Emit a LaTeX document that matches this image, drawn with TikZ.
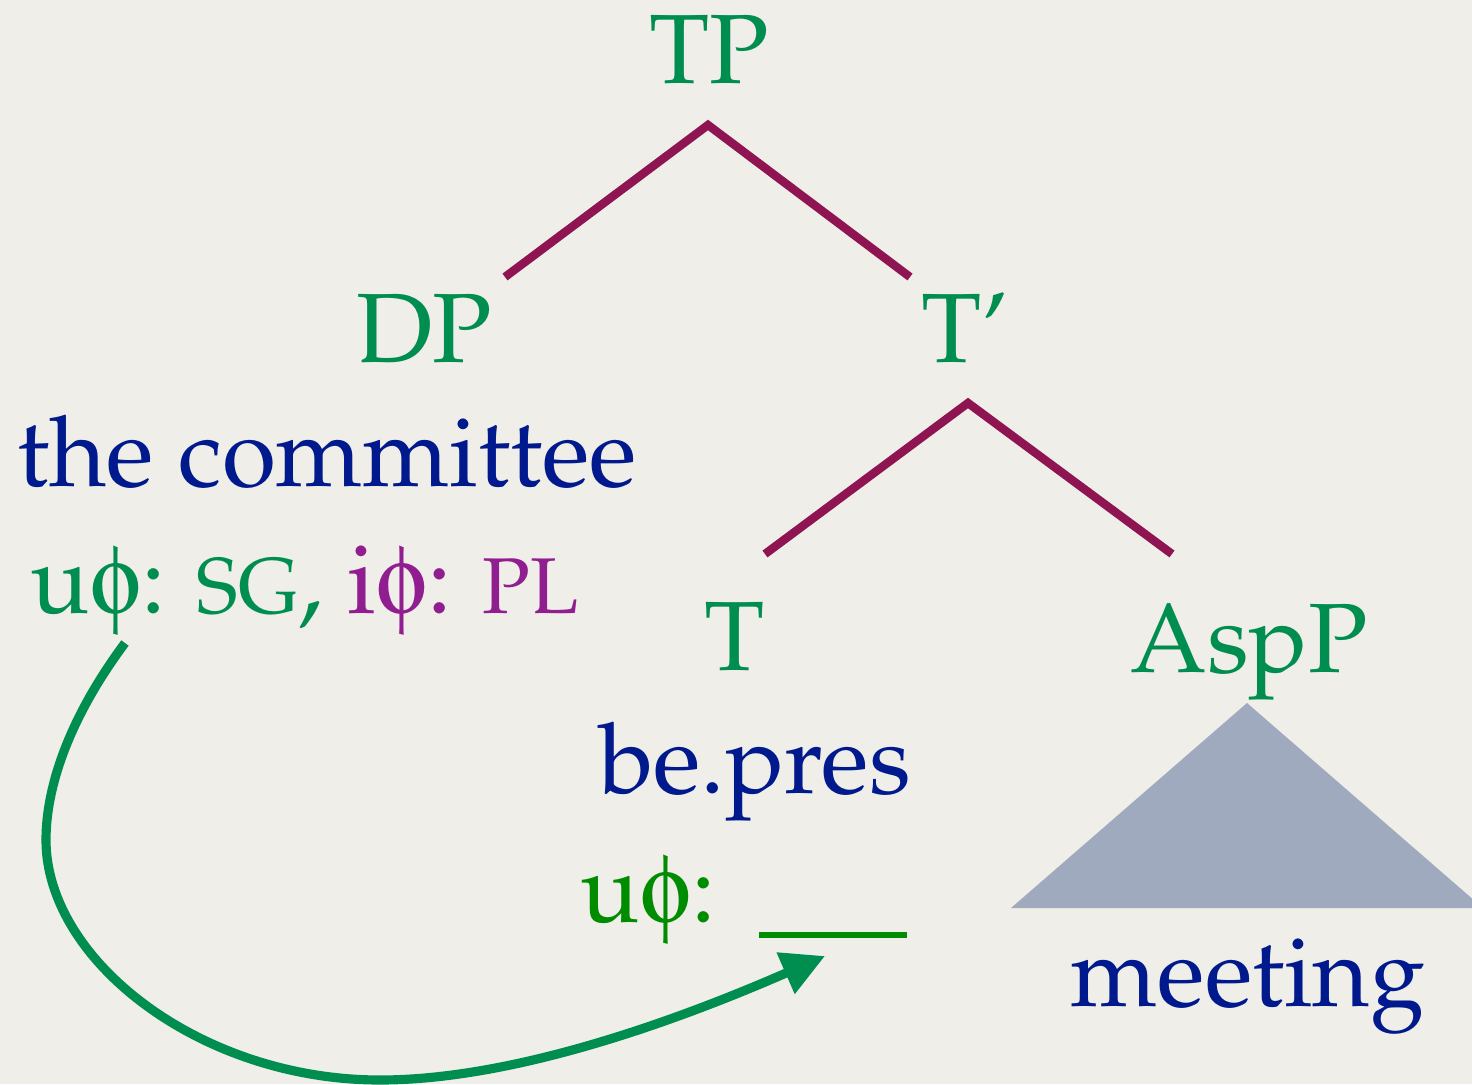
\documentclass[tikz,border=0pt]{standalone}
\usepackage[T1]{fontenc}
\usepackage{mathpazo}
\usepackage[Symbol]{upgreek}
\usetikzlibrary{arrows.meta}

\definecolor{paper}{RGB}{240,238,232}
\definecolor{catgreen}{RGB}{0,142,80}
\definecolor{featgreen}{RGB}{0,140,0}
\definecolor{wordblue}{RGB}{0,25,140}
\definecolor{featpurple}{RGB}{145,30,145}
\definecolor{branchred}{RGB}{142,20,82}
\definecolor{roofgray}{RGB}{160,170,190}

\newcommand{\phif}{\ensuremath{\upphi}}
\newcommand{\fsc}[1]{{\fontsize{22.5}{26}\selectfont #1}}

\begin{document}
\begin{tikzpicture}[x=0.01cm, y=-0.01cm,
    every node/.style={inner sep=0pt, font=\fontsize{28}{32}\selectfont},
    cat/.style={text=catgreen, anchor=base},
    word/.style={text=wordblue, anchor=base},
    branch/.style={draw=branchred, line width=2.4pt},
    roof/.style={fill=roofgray},
    agree/.style={draw=catgreen, line width=2.6pt,
                  -{Triangle[length=4.3mm,width=4.3mm]}}]
\useasboundingbox (0,0) rectangle (1472,1084);
\fill[paper] (0,0) rectangle (1472,1084);
\clip (0,0) rectangle (1472,1084);

% categories and words
\node[cat] (TP) at (709,83) {TP};
\node[cat] (DP) at (424,362) {DP};
\node[cat] (Tbar) at (965,362) {T'};
\node[word] (dpword) at (327,486) {the committee};
\node[anchor=base west] (dpfeat) at (30,613)
    {\color{catgreen}u\phif: \fsc{SG}, \color{featpurple}i\phif: \fsc{PL}};
\node[cat] (T) at (735,670) {T};
\node[cat] (AspP) at (1249,672) {AspP};
\node[word] (tword) at (755,793) {be.pres};
\node[anchor=base west, text=featgreen] (tfeat) at (580,922) {u\phif:};
\node[minimum width=1.47cm] (slot) at (833,935) {};
\node[word] (aspword) at (1248,1006) {meeting};

% branch ends
\coordinate (TP-foot) at (708,125);
\coordinate (DP-top) at (505,277);
\coordinate (Tbar-top) at (910,277);
\coordinate (Tbar-foot) at (968,403);
\coordinate (T-top) at (765,554);
\coordinate (AspP-top) at (1172,554);
\coordinate (AspP-foot) at (1247,703);

\draw[branch] (DP-top) -- (TP-foot) -- (Tbar-top);
\draw[branch] (T-top) -- (Tbar-foot) -- (AspP-top);
\fill[roof] (AspP-foot) -- (1011,908) -- (1483,908) -- cycle;

% empty slot on T
\draw[featgreen, line width=1.8pt] (slot.west) -- (slot.east);

% agreement arrow
\coordinate (probe) at ([shift={(95,30)}]dpfeat.base west);
\coordinate (goal) at ([shift={(-8,21)}]slot.center);
\draw[agree] (probe) .. controls (75,710) and (46,780) .. (46,840)
    .. controls (46,960) and (200,1080) .. (380,1080)
    .. controls (520,1080) and (690,1015) .. (goal);
\end{tikzpicture}
\end{document}
